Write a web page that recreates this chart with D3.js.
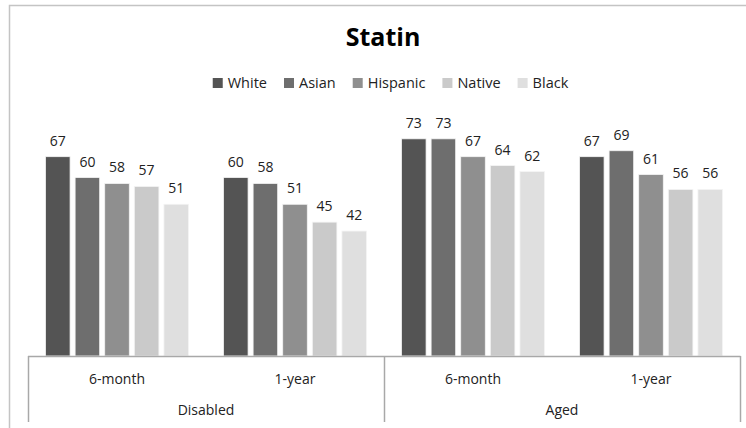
<!DOCTYPE html>
<html>
<head>
<meta charset="utf-8">
<script src="https://cdn.jsdelivr.net/npm/d3@7"></script>
<style>
  html, body { margin: 0; padding: 0; background: #fff; }
  svg { display: block; font-family: "Open Sans", "Noto Sans", sans-serif; }
</style>
</head>
<body>
<svg id="chart" width="746" height="428"></svg>
<script>
// Chart data
const title = "Statin";
const groups = ["Disabled", "Aged"];
const periods = ["6-month", "1-year"];
const series = ["White", "Asian", "Hispanic", "Native", "Black"];
const colors = ["#545454", "#6e6e6e", "#8f8f8f", "#cacaca", "#dfdfdf"];
const disabled6m = [67, 60, 58, 57, 51];
const disabled1y = [60, 58, 51, 45, 42];
const aged6m = [73, 73, 67, 64, 62];
const aged1y = [67, 69, 61, 56, 56];

const rows = [
  { group: "Disabled", period: "6-month", values: disabled6m },
  { group: "Disabled", period: "1-year", values: disabled1y },
  { group: "Aged", period: "6-month", values: aged6m },
  { group: "Aged", period: "1-year", values: aged1y }
];
rows.forEach((r, i) => r.key = i);

const svg = d3.select("#chart");

// Outer chart frame
svg.append("rect")
  .attr("x", 9.5).attr("y", 5.5)
  .attr("width", 760).attr("height", 440)
  .attr("fill", "none").attr("stroke", "#c4c4c4").attr("stroke-width", 1.5);

const left = 28, right = 740, baseY = 356, topY = 118;

const x0 = d3.scaleBand().domain(rows.map(r => r.key)).range([left, right]).padding(0);
const x1 = d3.scaleBand().domain(series)
  .range([17.5, x0.bandwidth() - 17.5]).paddingInner(0.17).paddingOuter(0);
const y = d3.scaleLinear().domain([0, 80]).range([baseY, topY]);
const color = d3.scaleOrdinal().domain(series).range(colors);

// Title
svg.append("text")
  .attr("x", 383).attr("y", 46)
  .attr("text-anchor", "middle")
  .attr("font-size", 25).attr("font-weight", "bold").attr("fill", "#000")
  .text(title);

// Legend, laid out from measured text widths
const legend = svg.append("g");
let lx = 0;
series.forEach(s => {
  const g = legend.append("g").attr("transform", `translate(${lx},0)`);
  g.append("rect").attr("x", 0).attr("y", -5).attr("width", 10).attr("height", 10)
    .attr("fill", color(s));
  const t = g.append("text").attr("x", 15).attr("y", 5)
    .attr("font-size", 14.5).attr("fill", "#222").text(s);
  lx += 15 + t.node().getComputedTextLength() + 17;
});
const legendW = lx - 17;
legend.attr("transform", `translate(${390.5 - legendW / 2},83)`);

// Bars
const cat = svg.append("g").selectAll("g").data(rows).join("g")
  .attr("transform", d => `translate(${x0(d.key)},0)`);

cat.selectAll("rect")
  .data(d => d.values.map((v, i) => ({ s: series[i], v })))
  .join("rect")
  .attr("x", d => x1(d.s))
  .attr("y", d => y(d.v))
  .attr("width", x1.bandwidth())
  .attr("height", d => baseY - y(d.v))
  .attr("fill", d => color(d.s))
  .attr("stroke", "#f4f4f4").attr("stroke-width", 0.8);

// Value labels
cat.selectAll("text.val")
  .data(d => d.values.map((v, i) => ({ s: series[i], v })))
  .join("text")
  .attr("class", "val")
  .attr("x", d => x1(d.s) + x1.bandwidth() / 2)
  .attr("y", d => y(d.v) - 11)
  .attr("text-anchor", "middle")
  .attr("font-size", 14).attr("fill", "#222")
  .text(d => d.v);

// Category axis: baseline, group separators and labels
const axisColor = "#a8a8a8";
svg.append("line")
  .attr("x1", left).attr("x2", right + 0.5)
  .attr("y1", baseY + 0.5).attr("y2", baseY + 0.5)
  .attr("stroke", axisColor).attr("stroke-width", 1.5);

const groupScale = d3.scaleBand().domain(groups).range([left, right]);
const sepX = [left, ...groups.map(g => groupScale(g) + groupScale.bandwidth())];
svg.selectAll("line.sep").data(sepX).join("line")
  .attr("class", "sep")
  .attr("x1", d => Math.round(d) + 0.5).attr("x2", d => Math.round(d) + 0.5)
  .attr("y1", baseY).attr("y2", 422)
  .attr("stroke", axisColor).attr("stroke-width", 1.5);

svg.selectAll("text.period").data(rows).join("text")
  .attr("class", "period")
  .attr("x", d => x0(d.key) + x0.bandwidth() / 2)
  .attr("y", 384)
  .attr("text-anchor", "middle")
  .attr("font-size", 14).attr("fill", "#222")
  .text(d => d.period);

svg.selectAll("text.group").data(groups).join("text")
  .attr("class", "group")
  .attr("x", d => groupScale(d) + groupScale.bandwidth() / 2)
  .attr("y", 415)
  .attr("text-anchor", "middle")
  .attr("font-size", 14).attr("fill", "#222")
  .text(d => d);
</script>
</body>
</html>
